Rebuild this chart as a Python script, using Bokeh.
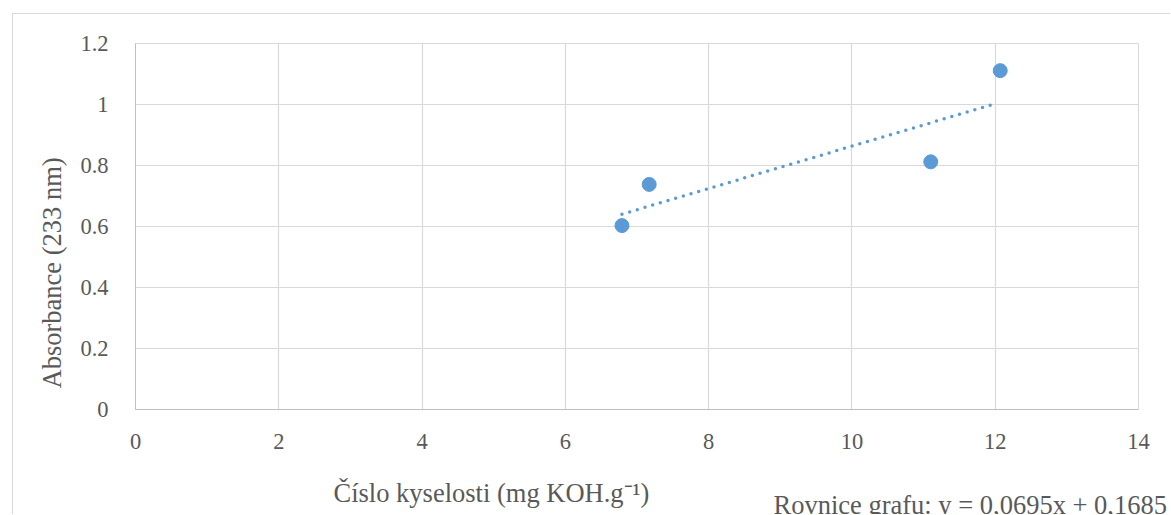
from bokeh.plotting import figure
from bokeh.layouts import column
from bokeh.models import Range1d, FixedTicker, Label, Title
from bokeh.embed import file_html
from bokeh.resources import INLINE

# ---- data ----
acid_number = [6.79, 7.17, 11.10, 12.07]
absorbance = [0.603, 0.738, 0.812, 1.111]

trend_slope = 0.0695
trend_intercept = 0.1685
trend_x = [6.79, 12.0]

x_ticks = [0, 2, 4, 6, 8, 10, 12, 14]
x_tick_labels = ["0", "2", "4", "6", "8", "10", "12", "14"]
y_ticks = [0, 0.2, 0.4, 0.6, 0.8, 1.0, 1.2]
y_tick_labels = ["0", "0.2", "0.4", "0.6", "0.8", "1", "1.2"]

x_title = "Číslo kyselosti (mg KOH.g⁻¹)"
y_title = "Absorbance (233 nm)"
equation_text = "Rovnice grafu: y = 0,0695x + 0,1685"

FONT = "Liberation Serif, Times New Roman, serif"
TEXT_COLOR = "#595959"
BLUE = "#5b9bd5"
GRID = "#d9d9d9"

# ---- main chart ----
p = figure(
    width=1157, height=445,
    x_range=Range1d(0, 14), y_range=Range1d(0, 1.2),
    output_backend="svg", toolbar_location=None,
    min_border_left=122, min_border_right=32,
    min_border_top=29, min_border_bottom=50,
)
p.frame_align = False
p.outline_line_color = GRID
p.outline_line_width = 1
p.background_fill_color = "white"
p.border_fill_color = "white"

for ax in (p.xaxis, p.yaxis):
    ax.axis_line_color = "#bfbfbf"
    ax.axis_line_width = 1
    ax.major_tick_line_color = None
    ax.minor_tick_line_color = None
    ax.major_label_text_font = FONT
    ax.major_label_text_font_size = "22.5px"
    ax.major_label_text_color = TEXT_COLOR

p.xaxis.ticker = FixedTicker(ticks=x_ticks)
p.yaxis.ticker = FixedTicker(ticks=y_ticks)
p.xaxis.major_label_overrides = {t: l for t, l in zip(x_ticks, x_tick_labels)}
p.yaxis.major_label_overrides = {t: l for t, l in zip(y_ticks, y_tick_labels)}
p.xaxis.major_label_standoff = 18
p.yaxis.major_label_standoff = 21

p.xgrid.ticker = FixedTicker(ticks=x_ticks)
p.ygrid.ticker = FixedTicker(ticks=y_ticks)
for g in (p.xgrid, p.ygrid):
    g.grid_line_color = GRID
    g.grid_line_width = 1.2

# trendline (from the fitted equation)
trend_y = [trend_slope * x + trend_intercept for x in trend_x]
p.line(trend_x, trend_y, line_color=BLUE, line_width=3.5,
       line_dash="0 8", line_cap="round")

# points
p.scatter(acid_number, absorbance, size=14, fill_color=BLUE, line_color=BLUE)

# y axis title
p.add_layout(Title(text=y_title, align="left", offset=21, standoff=21,
                   text_font=FONT, text_font_size="26.5px",
                   text_font_style="normal", text_color=TEXT_COLOR), "left")

# ---- strip below the chart holding the x title and the equation ----
q = figure(
    width=1157, height=55,
    x_axis_type=None, y_axis_type=None,
    output_backend="svg", toolbar_location=None,
    min_border=0,
)
q.frame_align = False
q.outline_line_color = None
q.background_fill_color = "white"
q.border_fill_color = "white"

q.add_layout(Label(x=320, y=22, x_units="screen", y_units="screen",
                   text=x_title, text_align="left",
                   text_baseline="alphabetic", text_font=FONT,
                   text_font_size="26.5px", text_color=TEXT_COLOR))
q.add_layout(Label(x=760, y=9.5, x_units="screen", y_units="screen",
                   text=equation_text, text_align="left",
                   text_baseline="alphabetic", text_font=FONT,
                   text_font_size="26.5px", text_color=TEXT_COLOR))

layout = column(
    p, q, spacing=0,
    margin=(13, 0, 0, 12),
    styles={"border-left": "1px solid #d9d9d9", "border-top": "1px solid #d9d9d9"},
)

open("out.html", "w").write(file_html(layout, INLINE))
